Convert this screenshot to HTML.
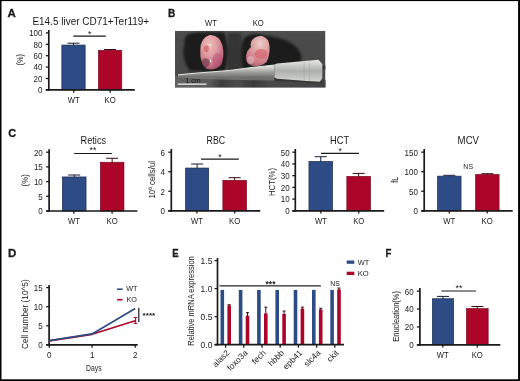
<!DOCTYPE html>
<html lang="en">
<head>
<meta charset="utf-8">
<title>Figure</title>
<style>
html,body{margin:0;padding:0;background:#fff;}
body{width:520px;height:381px;overflow:hidden;position:relative;}
svg{position:absolute;left:0;top:0;display:block;will-change:transform;font-family:'Liberation Sans', sans-serif;}
</style>
</head>
<body>
<svg width="520" height="381" viewBox="0 0 520 381">
<text transform="translate(7.6 17)" font-size="11.5" text-anchor="start" fill="#1a1a1a" font-weight="bold" textLength="8.3" lengthAdjust="spacingAndGlyphs" stroke="#1a1a1a" stroke-width="0.3">A</text>
<text transform="translate(167.9 17)" font-size="11.5" text-anchor="start" fill="#1a1a1a" font-weight="bold" textLength="7.3" lengthAdjust="spacingAndGlyphs" stroke="#1a1a1a" stroke-width="0.3">B</text>
<text transform="translate(8.3 136.7)" font-size="11.8" text-anchor="start" fill="#1a1a1a" font-weight="bold" textLength="7.9" lengthAdjust="spacingAndGlyphs" stroke="#1a1a1a" stroke-width="0.3">C</text>
<text transform="translate(7.9 256.8)" font-size="11.5" text-anchor="start" fill="#1a1a1a" font-weight="bold" textLength="8.3" lengthAdjust="spacingAndGlyphs" stroke="#1a1a1a" stroke-width="0.3">D</text>
<text transform="translate(172.2 257.4)" font-size="11.5" text-anchor="start" fill="#1a1a1a" font-weight="bold" textLength="6.4" lengthAdjust="spacingAndGlyphs" stroke="#1a1a1a" stroke-width="0.3">E</text>
<text transform="translate(385.5 257)" font-size="11.5" text-anchor="start" fill="#1a1a1a" font-weight="bold" textLength="5.9" lengthAdjust="spacingAndGlyphs" stroke="#1a1a1a" stroke-width="0.3">F</text>
<text transform="translate(32.4 24.7)" font-size="10" text-anchor="start" fill="#1a1a1a" textLength="116.8" lengthAdjust="spacingAndGlyphs" >E14.5 liver CD71+Ter119+</text>
<rect x="61.85" y="45.05" width="23.30" height="44.85" fill="#2d4c86" stroke="#1d2d52" stroke-width="0.7"/>
<line x1="73.5" y1="45.2" x2="73.5" y2="43.2" stroke="#141f38" stroke-width="1.0" stroke-linecap="butt"/>
<line x1="67.5" y1="43.2" x2="79.5" y2="43.2" stroke="#141f38" stroke-width="1.0" stroke-linecap="butt"/>
<rect x="98.45" y="50.35" width="23.30" height="39.55" fill="#ad0529" stroke="#7c0920" stroke-width="0.7"/>
<line x1="110.1" y1="50.5" x2="110.1" y2="49.5" stroke="#3a0812" stroke-width="1.0" stroke-linecap="butt"/>
<line x1="104.1" y1="49.5" x2="116.1" y2="49.5" stroke="#3a0812" stroke-width="1.0" stroke-linecap="butt"/>
<line x1="48.8" y1="30" x2="48.8" y2="90.75" stroke="#1a1a1a" stroke-width="1.7" stroke-linecap="butt"/>
<line x1="45.8" y1="89.9" x2="134.8" y2="89.9" stroke="#1a1a1a" stroke-width="1.7" stroke-linecap="butt"/>
<line x1="45.8" y1="89.9" x2="48.8" y2="89.9" stroke="#1a1a1a" stroke-width="1.3" stroke-linecap="butt"/>
<text transform="translate(42.5 93.284)" font-size="9.4" text-anchor="end" fill="#1a1a1a" textLength="4.45" lengthAdjust="spacingAndGlyphs" >0</text>
<line x1="45.8" y1="78.5" x2="48.8" y2="78.5" stroke="#1a1a1a" stroke-width="1.3" stroke-linecap="butt"/>
<text transform="translate(42.5 81.884)" font-size="9.4" text-anchor="end" fill="#1a1a1a" textLength="8.9" lengthAdjust="spacingAndGlyphs" >20</text>
<line x1="45.8" y1="67.10000000000001" x2="48.8" y2="67.10000000000001" stroke="#1a1a1a" stroke-width="1.3" stroke-linecap="butt"/>
<text transform="translate(42.5 70.48400000000001)" font-size="9.4" text-anchor="end" fill="#1a1a1a" textLength="8.9" lengthAdjust="spacingAndGlyphs" >40</text>
<line x1="45.8" y1="55.70000000000001" x2="48.8" y2="55.70000000000001" stroke="#1a1a1a" stroke-width="1.3" stroke-linecap="butt"/>
<text transform="translate(42.5 59.08400000000001)" font-size="9.4" text-anchor="end" fill="#1a1a1a" textLength="8.9" lengthAdjust="spacingAndGlyphs" >60</text>
<line x1="45.8" y1="44.30000000000001" x2="48.8" y2="44.30000000000001" stroke="#1a1a1a" stroke-width="1.3" stroke-linecap="butt"/>
<text transform="translate(42.5 47.68400000000001)" font-size="9.4" text-anchor="end" fill="#1a1a1a" textLength="8.9" lengthAdjust="spacingAndGlyphs" >80</text>
<line x1="45.8" y1="32.90000000000001" x2="48.8" y2="32.90000000000001" stroke="#1a1a1a" stroke-width="1.3" stroke-linecap="butt"/>
<text transform="translate(42.5 36.28400000000001)" font-size="9.4" text-anchor="end" fill="#1a1a1a" textLength="13.34" lengthAdjust="spacingAndGlyphs" >100</text>
<line x1="73.7" y1="89.9" x2="73.7" y2="92.7" stroke="#1a1a1a" stroke-width="1.3" stroke-linecap="butt"/>
<text transform="translate(73.7 102.9)" font-size="8.7" text-anchor="middle" fill="#1a1a1a" textLength="12.0" lengthAdjust="spacingAndGlyphs" >WT</text>
<line x1="110.2" y1="89.9" x2="110.2" y2="92.7" stroke="#1a1a1a" stroke-width="1.3" stroke-linecap="butt"/>
<text transform="translate(110.2 102.9)" font-size="8.7" text-anchor="middle" fill="#1a1a1a" textLength="11.2" lengthAdjust="spacingAndGlyphs" >KO</text>
<line x1="73.3" y1="36.2" x2="105.8" y2="36.2" stroke="#1a1a1a" stroke-width="1.2" stroke-linecap="butt"/>
<text transform="translate(89.7 36.7)" font-size="8.8" text-anchor="middle" fill="#1a1a1a" >*</text>
<text transform="translate(23.3 59.8) rotate(-90)" font-size="8.5" text-anchor="middle" fill="#1a1a1a" textLength="11.6" lengthAdjust="spacingAndGlyphs" >(%)</text>
<g id="photo">
<defs><clipPath id="pc"><rect x="175.0" y="30.8" width="150.5" height="56.7"/></clipPath><linearGradient id="tipg" x1="0" y1="0" x2="0" y2="1"><stop offset="0" stop-color="#e9e9e5"/><stop offset="0.22" stop-color="#cfd0cc"/><stop offset="0.5" stop-color="#adb0ad"/><stop offset="0.78" stop-color="#c2c3bf"/><stop offset="0.93" stop-color="#d2d2ce"/><stop offset="1" stop-color="#8c8d89"/></linearGradient><linearGradient id="tipn" x1="0" y1="0" x2="0" y2="1"><stop offset="0" stop-color="#eeeeea"/><stop offset="0.3" stop-color="#c2c3bf"/><stop offset="0.65" stop-color="#969793"/><stop offset="1" stop-color="#70716d"/></linearGradient><linearGradient id="bgg" x1="0" y1="0" x2="0" y2="1"><stop offset="0" stop-color="#545454"/><stop offset="0.06" stop-color="#4b4b4b"/><stop offset="1" stop-color="#484848"/></linearGradient><linearGradient id="lowg" x1="0" y1="0" x2="1" y2="0"><stop offset="0" stop-color="#636363"/><stop offset="0.25" stop-color="#5a5a5a"/><stop offset="0.32" stop-color="#3c3c3c"/><stop offset="0.42" stop-color="#4c4c4c"/><stop offset="0.52" stop-color="#383838"/><stop offset="0.62" stop-color="#484848"/><stop offset="1" stop-color="#424242"/></linearGradient><radialGradient id="emb1" cx="0.4" cy="0.28" r="0.8"><stop offset="0" stop-color="#efbfbd"/><stop offset="0.4" stop-color="#df9ca1"/><stop offset="0.8" stop-color="#c4697f"/><stop offset="1" stop-color="#874357"/></radialGradient><radialGradient id="emb2" cx="0.6" cy="0.25" r="0.8"><stop offset="0" stop-color="#eccfcb"/><stop offset="0.4" stop-color="#dfa2a5"/><stop offset="0.8" stop-color="#cf7c86"/><stop offset="1" stop-color="#9a5c6a"/></radialGradient><filter id="bl" x="-20%" y="-20%" width="140%" height="140%"><feGaussianBlur stdDeviation="1.3"/></filter><filter id="bl2" x="-20%" y="-20%" width="140%" height="140%"><feGaussianBlur stdDeviation="0.7"/></filter><filter id="bl3" x="-20%" y="-20%" width="140%" height="140%"><feGaussianBlur stdDeviation="0.45"/></filter></defs>
<g clip-path="url(#pc)">
<rect x="175.0" y="30.8" width="150.5" height="56.7" fill="url(#bgg)"/>
<g filter="url(#bl2)"><polygon points="170,76 250,76 330,80 330,92 170,92" fill="url(#lowg)"/></g>
<g filter="url(#bl)">
<path d="M185,38 Q187,33 198,32.5 L224,32.5 Q228,42 227.5,55 Q227,66 224,72 L190,71 Q183,62 183.5,50 Z" fill="#1c1c1c"/>
<path d="M242.5,42 Q244,34.5 256,34 L268,36 Q294,39.5 300.5,53 Q302.5,61 299.5,68.5 L243,70.5 Q239,56 242.5,42 Z" fill="#1d1d1d"/>
<rect x="228" y="33" width="13.5" height="38" fill="#343434"/>
<rect x="300" y="66" width="30" height="3" fill="#303030"/>
</g>
<g filter="url(#bl2)">
<path d="M200.3,50 Q200.3,38 209.5,35 Q219.5,34.5 222.6,46 Q225,58 220.5,65.5 Q214.5,71 206.5,68.8 Q199.5,63.5 200.3,50 Z" fill="url(#emb1)"/>
<ellipse cx="217.5" cy="60" rx="5" ry="7" fill="#b8507a" opacity="0.5"/>
<ellipse cx="205.6" cy="62.8" rx="4" ry="4.5" fill="#55303e" opacity="0.55"/>
<ellipse cx="206.4" cy="48.8" rx="2.6" ry="3.4" fill="#cf5252" opacity="0.6"/>
<path d="M252,40 Q256,35.5 262,36 Q269,38 269.5,46 Q270,56 266.5,62 Q260,67.5 252,66 Q245,63 246,56 Q247,50 251,47 Q250,43 252,40 Z" fill="url(#emb2)"/>
<ellipse cx="261" cy="54" rx="6.5" ry="5" fill="#d65a66" opacity="0.6"/>
<ellipse cx="250.5" cy="60" rx="3.5" ry="4" fill="#e6c2c2" opacity="0.55"/>
</g>
<g filter="url(#bl3)">
<path d="M209,44 l2.6,1.2 l-2,1.1 z" fill="#fff"/>
<path d="M210,59 l1.7,3.2 l-1.6,-0.3 z" fill="#fff"/>
<polygon points="178,75.5 250,76 274.5,77 274.5,80.6 250,80.2 200,79 178,77.5" fill="#7a7a78" opacity="0.8"/>
<polygon points="274.5,78 322,80 322,83 274.5,81" fill="#2e2e2e" opacity="0.8"/>
<polygon points="178,74.9 200,72.9 230,70.5 250,67.8 274.5,65.2 274.5,77.4 250,76.4 230,76.8 200,76.3 178,76.1" fill="url(#tipn)"/>
<polygon points="274.5,64.6 277,63.4 318.5,59.7 322.3,64 322.3,78 319.8,82 277,78.8 274.5,77.6" fill="url(#tipg)"/>
<polyline points="178,74.8 200,72.8 230,70.4 250,67.7 274.5,65" fill="none" stroke="#f4f4f0" stroke-width="0.9"/>
<rect x="303.5" y="61.5" width="1.2" height="19" fill="#9a9b97" opacity="0.35"/>
<rect x="309" y="61" width="1.2" height="20" fill="#9a9b97" opacity="0.3"/>
</g>
<line x1="177.8" y1="84.1" x2="206.4" y2="84.1" stroke="#f4f4f4" stroke-width="1.1" stroke-linecap="butt"/>
<text transform="translate(193 83)" font-size="7" text-anchor="middle" fill="#161616" >1 cm</text>
</g>
</g>
<text transform="translate(211 26.0)" font-size="8.8" text-anchor="middle" fill="#1a1a1a" textLength="11.9" lengthAdjust="spacingAndGlyphs" >WT</text>
<text transform="translate(258.2 26.0)" font-size="8.8" text-anchor="middle" fill="#1a1a1a" textLength="11.1" lengthAdjust="spacingAndGlyphs" >KO</text>
<text transform="translate(93.3 143.8)" font-size="10.2" text-anchor="middle" fill="#1a1a1a" textLength="25.6" lengthAdjust="spacingAndGlyphs" >Retics</text>
<rect x="62.35" y="176.95" width="23.70" height="34.05" fill="#2d4c86" stroke="#1d2d52" stroke-width="0.7"/>
<line x1="74.2" y1="177.1" x2="74.2" y2="175" stroke="#141f38" stroke-width="1.0" stroke-linecap="butt"/>
<line x1="68.2" y1="175" x2="80.2" y2="175" stroke="#141f38" stroke-width="1.0" stroke-linecap="butt"/>
<rect x="100.35" y="162.25" width="23.60" height="48.75" fill="#ad0529" stroke="#7c0920" stroke-width="0.7"/>
<line x1="112.15" y1="162.4" x2="112.15" y2="158.3" stroke="#3a0812" stroke-width="1.0" stroke-linecap="butt"/>
<line x1="106.15" y1="158.3" x2="118.15" y2="158.3" stroke="#3a0812" stroke-width="1.0" stroke-linecap="butt"/>
<line x1="49.1" y1="149.2" x2="49.1" y2="211.85" stroke="#1a1a1a" stroke-width="1.7" stroke-linecap="butt"/>
<line x1="46.1" y1="211" x2="137.4" y2="211" stroke="#1a1a1a" stroke-width="1.7" stroke-linecap="butt"/>
<line x1="46.1" y1="211.0" x2="49.1" y2="211.0" stroke="#1a1a1a" stroke-width="1.3" stroke-linecap="butt"/>
<text transform="translate(42.800000000000004 214.384)" font-size="9.4" text-anchor="end" fill="#1a1a1a" textLength="4.45" lengthAdjust="spacingAndGlyphs" >0</text>
<line x1="46.1" y1="196.3" x2="49.1" y2="196.3" stroke="#1a1a1a" stroke-width="1.3" stroke-linecap="butt"/>
<text transform="translate(42.800000000000004 199.684)" font-size="9.4" text-anchor="end" fill="#1a1a1a" textLength="4.45" lengthAdjust="spacingAndGlyphs" >5</text>
<line x1="46.1" y1="181.6" x2="49.1" y2="181.6" stroke="#1a1a1a" stroke-width="1.3" stroke-linecap="butt"/>
<text transform="translate(42.800000000000004 184.98399999999998)" font-size="9.4" text-anchor="end" fill="#1a1a1a" textLength="8.9" lengthAdjust="spacingAndGlyphs" >10</text>
<line x1="46.1" y1="166.9" x2="49.1" y2="166.9" stroke="#1a1a1a" stroke-width="1.3" stroke-linecap="butt"/>
<text transform="translate(42.800000000000004 170.284)" font-size="9.4" text-anchor="end" fill="#1a1a1a" textLength="8.9" lengthAdjust="spacingAndGlyphs" >15</text>
<line x1="46.1" y1="152.2" x2="49.1" y2="152.2" stroke="#1a1a1a" stroke-width="1.3" stroke-linecap="butt"/>
<text transform="translate(42.800000000000004 155.58399999999997)" font-size="9.4" text-anchor="end" fill="#1a1a1a" textLength="8.9" lengthAdjust="spacingAndGlyphs" >20</text>
<line x1="73.9" y1="211" x2="73.9" y2="213.8" stroke="#1a1a1a" stroke-width="1.3" stroke-linecap="butt"/>
<text transform="translate(73.9 223.7)" font-size="8.7" text-anchor="middle" fill="#1a1a1a" textLength="12.0" lengthAdjust="spacingAndGlyphs" >WT</text>
<line x1="112.1" y1="211" x2="112.1" y2="213.8" stroke="#1a1a1a" stroke-width="1.3" stroke-linecap="butt"/>
<text transform="translate(112.1 223.7)" font-size="8.7" text-anchor="middle" fill="#1a1a1a" textLength="11.2" lengthAdjust="spacingAndGlyphs" >KO</text>
<line x1="74.1" y1="153.5" x2="111.9" y2="153.5" stroke="#1a1a1a" stroke-width="1.2" stroke-linecap="butt"/>
<text transform="translate(93 153.2)" font-size="8.8" text-anchor="middle" fill="#1a1a1a" >**</text>
<text transform="translate(28.4 180.3) rotate(-90)" font-size="8.5" text-anchor="middle" fill="#1a1a1a" textLength="12.2" lengthAdjust="spacingAndGlyphs" >(%)</text>
<text transform="translate(215.9 143.9)" font-size="10.2" text-anchor="middle" fill="#1a1a1a" textLength="18.6" lengthAdjust="spacingAndGlyphs" >RBC</text>
<rect x="185.55" y="168.05" width="23.10" height="42.75" fill="#2d4c86" stroke="#1d2d52" stroke-width="0.7"/>
<line x1="197.1" y1="168.2" x2="197.1" y2="164" stroke="#141f38" stroke-width="1.0" stroke-linecap="butt"/>
<line x1="191.1" y1="164" x2="203.1" y2="164" stroke="#141f38" stroke-width="1.0" stroke-linecap="butt"/>
<rect x="222.85" y="180.35" width="23.60" height="30.45" fill="#ad0529" stroke="#7c0920" stroke-width="0.7"/>
<line x1="234.65" y1="180.5" x2="234.65" y2="177.7" stroke="#3a0812" stroke-width="1.0" stroke-linecap="butt"/>
<line x1="228.65" y1="177.7" x2="240.65" y2="177.7" stroke="#3a0812" stroke-width="1.0" stroke-linecap="butt"/>
<line x1="171.3" y1="149" x2="171.3" y2="211.65" stroke="#1a1a1a" stroke-width="1.7" stroke-linecap="butt"/>
<line x1="168.3" y1="210.8" x2="260.2" y2="210.8" stroke="#1a1a1a" stroke-width="1.7" stroke-linecap="butt"/>
<line x1="168.3" y1="210.8" x2="171.3" y2="210.8" stroke="#1a1a1a" stroke-width="1.3" stroke-linecap="butt"/>
<text transform="translate(165.0 214.184)" font-size="9.4" text-anchor="end" fill="#1a1a1a" textLength="4.45" lengthAdjust="spacingAndGlyphs" >0</text>
<line x1="168.3" y1="191.26000000000002" x2="171.3" y2="191.26000000000002" stroke="#1a1a1a" stroke-width="1.3" stroke-linecap="butt"/>
<text transform="translate(165.0 194.644)" font-size="9.4" text-anchor="end" fill="#1a1a1a" textLength="4.45" lengthAdjust="spacingAndGlyphs" >2</text>
<line x1="168.3" y1="171.72000000000003" x2="171.3" y2="171.72000000000003" stroke="#1a1a1a" stroke-width="1.3" stroke-linecap="butt"/>
<text transform="translate(165.0 175.104)" font-size="9.4" text-anchor="end" fill="#1a1a1a" textLength="4.45" lengthAdjust="spacingAndGlyphs" >4</text>
<line x1="168.3" y1="152.18" x2="171.3" y2="152.18" stroke="#1a1a1a" stroke-width="1.3" stroke-linecap="butt"/>
<text transform="translate(165.0 155.564)" font-size="9.4" text-anchor="end" fill="#1a1a1a" textLength="4.45" lengthAdjust="spacingAndGlyphs" >6</text>
<line x1="196.9" y1="210.8" x2="196.9" y2="213.60000000000002" stroke="#1a1a1a" stroke-width="1.3" stroke-linecap="butt"/>
<text transform="translate(196.9 223.7)" font-size="8.7" text-anchor="middle" fill="#1a1a1a" textLength="12.0" lengthAdjust="spacingAndGlyphs" >WT</text>
<line x1="234.7" y1="210.8" x2="234.7" y2="213.60000000000002" stroke="#1a1a1a" stroke-width="1.3" stroke-linecap="butt"/>
<text transform="translate(234.7 223.7)" font-size="8.7" text-anchor="middle" fill="#1a1a1a" textLength="11.2" lengthAdjust="spacingAndGlyphs" >KO</text>
<line x1="201" y1="159.1" x2="238.8" y2="159.1" stroke="#1a1a1a" stroke-width="1.2" stroke-linecap="butt"/>
<text transform="translate(219.9 159.7)" font-size="8.8" text-anchor="middle" fill="#1a1a1a" >*</text>
<text transform="translate(154.8 179.8) rotate(-90)" font-size="9" text-anchor="middle" fill="#1a1a1a" textLength="37.6" lengthAdjust="spacingAndGlyphs" >10<tspan font-size="5.5" dy="-3.2">6</tspan><tspan dy="3.2"> cells/ul</tspan></text>
<text transform="translate(339.6 143.9)" font-size="10.2" text-anchor="middle" fill="#1a1a1a" textLength="19.0" lengthAdjust="spacingAndGlyphs" >HCT</text>
<rect x="308.95" y="161.45" width="23.60" height="49.35" fill="#2d4c86" stroke="#1d2d52" stroke-width="0.7"/>
<line x1="320.75" y1="161.6" x2="320.75" y2="156.7" stroke="#141f38" stroke-width="1.0" stroke-linecap="butt"/>
<line x1="314.75" y1="156.7" x2="326.75" y2="156.7" stroke="#141f38" stroke-width="1.0" stroke-linecap="butt"/>
<rect x="346.85" y="176.45" width="23.60" height="34.35" fill="#ad0529" stroke="#7c0920" stroke-width="0.7"/>
<line x1="358.65" y1="176.6" x2="358.65" y2="173.4" stroke="#3a0812" stroke-width="1.0" stroke-linecap="butt"/>
<line x1="352.65" y1="173.4" x2="364.65" y2="173.4" stroke="#3a0812" stroke-width="1.0" stroke-linecap="butt"/>
<line x1="295.3" y1="149" x2="295.3" y2="211.65" stroke="#1a1a1a" stroke-width="1.7" stroke-linecap="butt"/>
<line x1="292.3" y1="210.8" x2="384.2" y2="210.8" stroke="#1a1a1a" stroke-width="1.7" stroke-linecap="butt"/>
<line x1="292.3" y1="210.8" x2="295.3" y2="210.8" stroke="#1a1a1a" stroke-width="1.3" stroke-linecap="butt"/>
<text transform="translate(289.7 214.184)" font-size="9.4" text-anchor="end" fill="#1a1a1a" textLength="4.45" lengthAdjust="spacingAndGlyphs" >0</text>
<line x1="292.3" y1="199.08" x2="295.3" y2="199.08" stroke="#1a1a1a" stroke-width="1.3" stroke-linecap="butt"/>
<text transform="translate(289.7 202.464)" font-size="9.4" text-anchor="end" fill="#1a1a1a" textLength="8.9" lengthAdjust="spacingAndGlyphs" >10</text>
<line x1="292.3" y1="187.36" x2="295.3" y2="187.36" stroke="#1a1a1a" stroke-width="1.3" stroke-linecap="butt"/>
<text transform="translate(289.7 190.744)" font-size="9.4" text-anchor="end" fill="#1a1a1a" textLength="8.9" lengthAdjust="spacingAndGlyphs" >20</text>
<line x1="292.3" y1="175.64000000000001" x2="295.3" y2="175.64000000000001" stroke="#1a1a1a" stroke-width="1.3" stroke-linecap="butt"/>
<text transform="translate(289.7 179.024)" font-size="9.4" text-anchor="end" fill="#1a1a1a" textLength="8.9" lengthAdjust="spacingAndGlyphs" >30</text>
<line x1="292.3" y1="163.92000000000002" x2="295.3" y2="163.92000000000002" stroke="#1a1a1a" stroke-width="1.3" stroke-linecap="butt"/>
<text transform="translate(289.7 167.304)" font-size="9.4" text-anchor="end" fill="#1a1a1a" textLength="8.9" lengthAdjust="spacingAndGlyphs" >40</text>
<line x1="292.3" y1="152.20000000000002" x2="295.3" y2="152.20000000000002" stroke="#1a1a1a" stroke-width="1.3" stroke-linecap="butt"/>
<text transform="translate(289.7 155.584)" font-size="9.4" text-anchor="end" fill="#1a1a1a" textLength="8.9" lengthAdjust="spacingAndGlyphs" >50</text>
<line x1="320.9" y1="210.8" x2="320.9" y2="213.60000000000002" stroke="#1a1a1a" stroke-width="1.3" stroke-linecap="butt"/>
<text transform="translate(320.9 223.7)" font-size="8.7" text-anchor="middle" fill="#1a1a1a" textLength="12.0" lengthAdjust="spacingAndGlyphs" >WT</text>
<line x1="358.8" y1="210.8" x2="358.8" y2="213.60000000000002" stroke="#1a1a1a" stroke-width="1.3" stroke-linecap="butt"/>
<text transform="translate(358.8 223.7)" font-size="8.7" text-anchor="middle" fill="#1a1a1a" textLength="11.2" lengthAdjust="spacingAndGlyphs" >KO</text>
<line x1="321" y1="153.3" x2="359" y2="153.3" stroke="#1a1a1a" stroke-width="1.2" stroke-linecap="butt"/>
<text transform="translate(340.1 153.7)" font-size="8.8" text-anchor="middle" fill="#1a1a1a" >*</text>
<text transform="translate(275.3 182) rotate(-90)" font-size="9" text-anchor="middle" fill="#1a1a1a" textLength="28" lengthAdjust="spacingAndGlyphs" >HCT(%)</text>
<text transform="translate(468.3 143.9)" font-size="10.2" text-anchor="middle" fill="#1a1a1a" textLength="21.4" lengthAdjust="spacingAndGlyphs" >MCV</text>
<rect x="437.55" y="176.15" width="23.50" height="34.65" fill="#2d4c86" stroke="#1d2d52" stroke-width="0.7"/>
<line x1="449.29999999999995" y1="176.3" x2="449.29999999999995" y2="175.3" stroke="#141f38" stroke-width="1.0" stroke-linecap="butt"/>
<line x1="443.29999999999995" y1="175.3" x2="455.29999999999995" y2="175.3" stroke="#141f38" stroke-width="1.0" stroke-linecap="butt"/>
<rect x="475.65" y="174.55" width="23.40" height="36.25" fill="#ad0529" stroke="#7c0920" stroke-width="0.7"/>
<line x1="487.35" y1="174.7" x2="487.35" y2="173.7" stroke="#3a0812" stroke-width="1.0" stroke-linecap="butt"/>
<line x1="481.35" y1="173.7" x2="493.35" y2="173.7" stroke="#3a0812" stroke-width="1.0" stroke-linecap="butt"/>
<line x1="424.2" y1="149" x2="424.2" y2="211.65" stroke="#1a1a1a" stroke-width="1.7" stroke-linecap="butt"/>
<line x1="421.2" y1="210.8" x2="512.7" y2="210.8" stroke="#1a1a1a" stroke-width="1.7" stroke-linecap="butt"/>
<line x1="421.2" y1="210.8" x2="424.2" y2="210.8" stroke="#1a1a1a" stroke-width="1.3" stroke-linecap="butt"/>
<text transform="translate(417.9 214.184)" font-size="9.4" text-anchor="end" fill="#1a1a1a" textLength="4.45" lengthAdjust="spacingAndGlyphs" >0</text>
<line x1="421.2" y1="191.25" x2="424.2" y2="191.25" stroke="#1a1a1a" stroke-width="1.3" stroke-linecap="butt"/>
<text transform="translate(417.9 194.634)" font-size="9.4" text-anchor="end" fill="#1a1a1a" textLength="8.9" lengthAdjust="spacingAndGlyphs" >50</text>
<line x1="421.2" y1="171.70000000000002" x2="424.2" y2="171.70000000000002" stroke="#1a1a1a" stroke-width="1.3" stroke-linecap="butt"/>
<text transform="translate(417.9 175.084)" font-size="9.4" text-anchor="end" fill="#1a1a1a" textLength="13.34" lengthAdjust="spacingAndGlyphs" >100</text>
<line x1="421.2" y1="152.15" x2="424.2" y2="152.15" stroke="#1a1a1a" stroke-width="1.3" stroke-linecap="butt"/>
<text transform="translate(417.9 155.534)" font-size="9.4" text-anchor="end" fill="#1a1a1a" textLength="13.34" lengthAdjust="spacingAndGlyphs" >150</text>
<line x1="449.3" y1="210.8" x2="449.3" y2="213.60000000000002" stroke="#1a1a1a" stroke-width="1.3" stroke-linecap="butt"/>
<text transform="translate(449.3 223.7)" font-size="8.7" text-anchor="middle" fill="#1a1a1a" textLength="12.0" lengthAdjust="spacingAndGlyphs" >WT</text>
<line x1="487.2" y1="210.8" x2="487.2" y2="213.60000000000002" stroke="#1a1a1a" stroke-width="1.3" stroke-linecap="butt"/>
<text transform="translate(487.2 223.7)" font-size="8.7" text-anchor="middle" fill="#1a1a1a" textLength="11.2" lengthAdjust="spacingAndGlyphs" >KO</text>
<text transform="translate(468.2 168.5)" font-size="7" text-anchor="middle" fill="#1a1a1a" >NS</text>
<text transform="translate(397.6 179.8) rotate(-90)" font-size="9" text-anchor="middle" fill="#1a1a1a" textLength="5.8" lengthAdjust="spacingAndGlyphs" >fL</text>
<line x1="49.1" y1="285" x2="49.1" y2="345.7" stroke="#1a1a1a" stroke-width="1.7" stroke-linecap="butt"/>
<line x1="46.2" y1="344.9" x2="137.7" y2="344.9" stroke="#1a1a1a" stroke-width="1.7" stroke-linecap="butt"/>
<line x1="46.2" y1="344.9" x2="49.1" y2="344.9" stroke="#1a1a1a" stroke-width="1.3" stroke-linecap="butt"/>
<text transform="translate(42.6 348.29999999999995)" font-size="9.4" text-anchor="end" fill="#1a1a1a" textLength="4.45" lengthAdjust="spacingAndGlyphs" >0</text>
<line x1="46.2" y1="325.79999999999995" x2="49.1" y2="325.79999999999995" stroke="#1a1a1a" stroke-width="1.3" stroke-linecap="butt"/>
<text transform="translate(42.6 329.19999999999993)" font-size="9.4" text-anchor="end" fill="#1a1a1a" textLength="4.45" lengthAdjust="spacingAndGlyphs" >5</text>
<line x1="46.2" y1="306.7" x2="49.1" y2="306.7" stroke="#1a1a1a" stroke-width="1.3" stroke-linecap="butt"/>
<text transform="translate(42.6 310.09999999999997)" font-size="9.4" text-anchor="end" fill="#1a1a1a" textLength="8.9" lengthAdjust="spacingAndGlyphs" >10</text>
<line x1="46.2" y1="287.59999999999997" x2="49.1" y2="287.59999999999997" stroke="#1a1a1a" stroke-width="1.3" stroke-linecap="butt"/>
<text transform="translate(42.6 290.99999999999994)" font-size="9.4" text-anchor="end" fill="#1a1a1a" textLength="8.9" lengthAdjust="spacingAndGlyphs" >15</text>
<line x1="49.3" y1="344.9" x2="49.3" y2="347.8" stroke="#1a1a1a" stroke-width="1.3" stroke-linecap="butt"/>
<text transform="translate(49.3 358.2)" font-size="9.4" text-anchor="middle" fill="#1a1a1a" textLength="4.45" lengthAdjust="spacingAndGlyphs" >0</text>
<line x1="92.1" y1="344.9" x2="92.1" y2="347.8" stroke="#1a1a1a" stroke-width="1.3" stroke-linecap="butt"/>
<text transform="translate(92.1 358.2)" font-size="9.4" text-anchor="middle" fill="#1a1a1a" textLength="4.45" lengthAdjust="spacingAndGlyphs" >1</text>
<line x1="135.2" y1="344.9" x2="135.2" y2="347.8" stroke="#1a1a1a" stroke-width="1.3" stroke-linecap="butt"/>
<text transform="translate(135.2 358.2)" font-size="9.4" text-anchor="middle" fill="#1a1a1a" textLength="4.45" lengthAdjust="spacingAndGlyphs" >2</text>
<text transform="translate(93.8 370.7)" font-size="8.2" text-anchor="middle" fill="#1a1a1a" textLength="15.5" lengthAdjust="spacingAndGlyphs" >Days</text>
<text transform="translate(27.9 314.2) rotate(-90)" font-size="8.8" text-anchor="middle" fill="#1a1a1a" textLength="69.7" lengthAdjust="spacingAndGlyphs" >Cell number (10^5)</text>
<polyline points="49.3,340.8 92.1,334.3 135.2,320.7" fill="none" stroke="#ad0529" stroke-width="1.7" stroke-linejoin="round"/>
<polyline points="49.3,340.6 92.1,333.9 135.2,308.6" fill="none" stroke="#2d4c86" stroke-width="1.7" stroke-linejoin="round"/>
<line x1="135.6" y1="317.3" x2="135.6" y2="323.6" stroke="#ad0529" stroke-width="1.1" stroke-linecap="butt"/>
<line x1="133.6" y1="317.5" x2="137" y2="317.5" stroke="#ad0529" stroke-width="1.0" stroke-linecap="butt"/>
<line x1="133.6" y1="323.4" x2="137" y2="323.4" stroke="#ad0529" stroke-width="1.0" stroke-linecap="butt"/>
<line x1="117.1" y1="289.2" x2="122.6" y2="289.2" stroke="#2d4c86" stroke-width="1.6" stroke-linecap="butt"/>
<text transform="translate(126.2 291.3)" font-size="7.6" text-anchor="start" fill="#1a1a1a" textLength="11.3" lengthAdjust="spacingAndGlyphs" >WT</text>
<line x1="117.1" y1="299.7" x2="122.6" y2="299.7" stroke="#ad0529" stroke-width="1.6" stroke-linecap="butt"/>
<text transform="translate(126.5 302.3)" font-size="7.6" text-anchor="start" fill="#1a1a1a" textLength="10.4" lengthAdjust="spacingAndGlyphs" >KO</text>
<line x1="138.8" y1="307.8" x2="138.8" y2="322" stroke="#1a1a1a" stroke-width="1.2" stroke-linecap="butt"/>
<text transform="translate(142.6 318.0)" font-size="8.1" text-anchor="start" fill="#1a1a1a" font-weight="bold" textLength="12.6" lengthAdjust="spacingAndGlyphs" >****</text>
<rect x="220.5" y="289.89029999999997" width="3.6" height="54.80970000000002" fill="#2d4c86"/>
<rect x="227.4" y="305.43" width="3.6" height="39.26999999999998" fill="#ad0529"/>
<line x1="229.20000000000002" y1="305.73" x2="229.20000000000002" y2="304.7007" stroke="#3a0812" stroke-width="1.0" stroke-linecap="butt"/>
<line x1="227.70000000000002" y1="304.7007" x2="230.70000000000002" y2="304.7007" stroke="#3a0812" stroke-width="1.0" stroke-linecap="butt"/>
<rect x="238.8" y="289.89029999999997" width="3.6" height="54.80970000000002" fill="#2d4c86"/>
<rect x="245.70000000000002" y="315.6963" width="3.6" height="29.00369999999998" fill="#ad0529"/>
<line x1="247.50000000000003" y1="315.9963" x2="247.50000000000003" y2="312.6108" stroke="#3a0812" stroke-width="1.0" stroke-linecap="butt"/>
<line x1="246.00000000000003" y1="312.6108" x2="249.00000000000003" y2="312.6108" stroke="#3a0812" stroke-width="1.0" stroke-linecap="butt"/>
<rect x="257.1" y="289.89029999999997" width="3.6" height="54.80970000000002" fill="#2d4c86"/>
<rect x="264.0" y="313.39619999999996" width="3.6" height="31.303800000000024" fill="#ad0529"/>
<line x1="265.8" y1="313.6962" x2="265.8" y2="307.113" stroke="#3a0812" stroke-width="1.0" stroke-linecap="butt"/>
<line x1="264.3" y1="307.113" x2="267.3" y2="307.113" stroke="#3a0812" stroke-width="1.0" stroke-linecap="butt"/>
<rect x="275.4" y="289.89029999999997" width="3.6" height="54.80970000000002" fill="#2d4c86"/>
<rect x="282.29999999999995" y="313.9011" width="3.6" height="30.798900000000003" fill="#ad0529"/>
<line x1="284.09999999999997" y1="314.2011" x2="284.09999999999997" y2="311.03999999999996" stroke="#3a0812" stroke-width="1.0" stroke-linecap="butt"/>
<line x1="282.59999999999997" y1="311.03999999999996" x2="285.59999999999997" y2="311.03999999999996" stroke="#3a0812" stroke-width="1.0" stroke-linecap="butt"/>
<rect x="293.7" y="289.89029999999997" width="3.6" height="54.80970000000002" fill="#2d4c86"/>
<rect x="300.59999999999997" y="308.68379999999996" width="3.6" height="36.016200000000026" fill="#ad0529"/>
<line x1="302.4" y1="308.9838" x2="302.4" y2="307.113" stroke="#3a0812" stroke-width="1.0" stroke-linecap="butt"/>
<line x1="300.9" y1="307.113" x2="303.9" y2="307.113" stroke="#3a0812" stroke-width="1.0" stroke-linecap="butt"/>
<rect x="312.0" y="289.89029999999997" width="3.6" height="54.80970000000002" fill="#2d4c86"/>
<rect x="318.9" y="309.4131" width="3.6" height="35.2869" fill="#ad0529"/>
<line x1="320.7" y1="309.7131" x2="320.7" y2="308.235" stroke="#3a0812" stroke-width="1.0" stroke-linecap="butt"/>
<line x1="319.2" y1="308.235" x2="322.2" y2="308.235" stroke="#3a0812" stroke-width="1.0" stroke-linecap="butt"/>
<rect x="330.3" y="289.89029999999997" width="3.6" height="54.80970000000002" fill="#2d4c86"/>
<rect x="337.2" y="289.4415" width="3.6" height="55.25849999999997" fill="#ad0529"/>
<line x1="339.0" y1="289.74150000000003" x2="339.0" y2="288.039" stroke="#3a0812" stroke-width="1.0" stroke-linecap="butt"/>
<line x1="337.5" y1="288.039" x2="340.5" y2="288.039" stroke="#3a0812" stroke-width="1.0" stroke-linecap="butt"/>
<line x1="217.5" y1="257.9" x2="217.5" y2="345.55" stroke="#1a1a1a" stroke-width="1.7" stroke-linecap="butt"/>
<line x1="214.6" y1="344.7" x2="344" y2="344.7" stroke="#1a1a1a" stroke-width="1.7" stroke-linecap="butt"/>
<line x1="214.6" y1="344.7" x2="217.5" y2="344.7" stroke="#1a1a1a" stroke-width="1.3" stroke-linecap="butt"/>
<text transform="translate(212.4 347.8)" font-size="8.8" text-anchor="end" fill="#1a1a1a" textLength="11.8" lengthAdjust="spacingAndGlyphs" >0.0</text>
<line x1="214.6" y1="316.65" x2="217.5" y2="316.65" stroke="#1a1a1a" stroke-width="1.3" stroke-linecap="butt"/>
<text transform="translate(212.4 319.75)" font-size="8.8" text-anchor="end" fill="#1a1a1a" textLength="11.8" lengthAdjust="spacingAndGlyphs" >0.5</text>
<line x1="214.6" y1="288.59999999999997" x2="217.5" y2="288.59999999999997" stroke="#1a1a1a" stroke-width="1.3" stroke-linecap="butt"/>
<text transform="translate(212.4 291.7)" font-size="8.8" text-anchor="end" fill="#1a1a1a" textLength="11.8" lengthAdjust="spacingAndGlyphs" >1.0</text>
<line x1="214.6" y1="260.54999999999995" x2="217.5" y2="260.54999999999995" stroke="#1a1a1a" stroke-width="1.3" stroke-linecap="butt"/>
<text transform="translate(212.4 263.65)" font-size="8.8" text-anchor="end" fill="#1a1a1a" textLength="11.8" lengthAdjust="spacingAndGlyphs" >1.5</text>
<text transform="translate(193.8 301.0) rotate(-90)" font-size="9.4" text-anchor="middle" fill="#1a1a1a" textLength="89.6" lengthAdjust="spacingAndGlyphs" >Relative mRNA expression</text>
<line x1="225.6" y1="344.7" x2="225.6" y2="347.7" stroke="#1a1a1a" stroke-width="1.3" stroke-linecap="butt"/>
<text transform="translate(230.0 353.5) rotate(-45)" font-size="8.4" text-anchor="end" fill="#1a1a1a" >alas2</text>
<line x1="243.79999999999998" y1="344.7" x2="243.79999999999998" y2="347.7" stroke="#1a1a1a" stroke-width="1.3" stroke-linecap="butt"/>
<text transform="translate(248.2 353.5) rotate(-45)" font-size="8.4" text-anchor="end" fill="#1a1a1a" >foxo3a</text>
<line x1="262.0" y1="344.7" x2="262.0" y2="347.7" stroke="#1a1a1a" stroke-width="1.3" stroke-linecap="butt"/>
<text transform="translate(266.4 353.5) rotate(-45)" font-size="8.4" text-anchor="end" fill="#1a1a1a" >fech</text>
<line x1="280.2" y1="344.7" x2="280.2" y2="347.7" stroke="#1a1a1a" stroke-width="1.3" stroke-linecap="butt"/>
<text transform="translate(284.59999999999997 353.5) rotate(-45)" font-size="8.4" text-anchor="end" fill="#1a1a1a" >hbbb</text>
<line x1="298.4" y1="344.7" x2="298.4" y2="347.7" stroke="#1a1a1a" stroke-width="1.3" stroke-linecap="butt"/>
<text transform="translate(302.79999999999995 353.5) rotate(-45)" font-size="8.4" text-anchor="end" fill="#1a1a1a" >epb41</text>
<line x1="316.6" y1="344.7" x2="316.6" y2="347.7" stroke="#1a1a1a" stroke-width="1.3" stroke-linecap="butt"/>
<text transform="translate(321.0 353.5) rotate(-45)" font-size="8.4" text-anchor="end" fill="#1a1a1a" >slc4a</text>
<line x1="334.79999999999995" y1="344.7" x2="334.79999999999995" y2="347.7" stroke="#1a1a1a" stroke-width="1.3" stroke-linecap="butt"/>
<text transform="translate(339.19999999999993 353.5) rotate(-45)" font-size="8.4" text-anchor="end" fill="#1a1a1a" >ckit</text>
<line x1="219.5" y1="285.8" x2="320.9" y2="285.8" stroke="#262626" stroke-width="1.3" stroke-linecap="butt"/>
<text transform="translate(270.5 286.9)" font-size="8.4" text-anchor="middle" fill="#1a1a1a" font-weight="bold" >***</text>
<text transform="translate(335 285.7)" font-size="7" text-anchor="middle" fill="#1a1a1a" textLength="9.6" lengthAdjust="spacingAndGlyphs" >NS</text>
<rect x="346.7" y="260.5" width="7.6" height="3.3" fill="#2d4c86"/>
<text transform="translate(357.7 264.5)" font-size="7.6" text-anchor="start" fill="#1a1a1a" textLength="11.5" lengthAdjust="spacingAndGlyphs" >WT</text>
<rect x="346.7" y="271.7" width="7.6" height="3.3" fill="#ad0529"/>
<text transform="translate(357.7 276)" font-size="7.6" text-anchor="start" fill="#1a1a1a" textLength="11" lengthAdjust="spacingAndGlyphs" >KO</text>
<rect x="432.35" y="298.75" width="21.30" height="46.05" fill="#2d4c86" stroke="#1d2d52" stroke-width="0.7"/>
<line x1="443.0" y1="298.9" x2="443.0" y2="296.4" stroke="#141f38" stroke-width="1.0" stroke-linecap="butt"/>
<line x1="437.0" y1="296.4" x2="449.0" y2="296.4" stroke="#141f38" stroke-width="1.0" stroke-linecap="butt"/>
<rect x="466.45" y="308.65" width="21.70" height="36.15" fill="#ad0529" stroke="#7c0920" stroke-width="0.7"/>
<line x1="477.3" y1="308.8" x2="477.3" y2="306.5" stroke="#3a0812" stroke-width="1.0" stroke-linecap="butt"/>
<line x1="471.3" y1="306.5" x2="483.3" y2="306.5" stroke="#3a0812" stroke-width="1.0" stroke-linecap="butt"/>
<line x1="419.9" y1="288" x2="419.9" y2="345.65000000000003" stroke="#1a1a1a" stroke-width="1.7" stroke-linecap="butt"/>
<line x1="416.9" y1="344.8" x2="500.3" y2="344.8" stroke="#1a1a1a" stroke-width="1.7" stroke-linecap="butt"/>
<line x1="416.9" y1="344.8" x2="419.9" y2="344.8" stroke="#1a1a1a" stroke-width="1.3" stroke-linecap="butt"/>
<text transform="translate(413.59999999999997 348.184)" font-size="9.4" text-anchor="end" fill="#1a1a1a" textLength="4.45" lengthAdjust="spacingAndGlyphs" >0</text>
<line x1="416.9" y1="326.91" x2="419.9" y2="326.91" stroke="#1a1a1a" stroke-width="1.3" stroke-linecap="butt"/>
<text transform="translate(413.59999999999997 330.29400000000004)" font-size="9.4" text-anchor="end" fill="#1a1a1a" textLength="8.9" lengthAdjust="spacingAndGlyphs" >20</text>
<line x1="416.9" y1="309.02" x2="419.9" y2="309.02" stroke="#1a1a1a" stroke-width="1.3" stroke-linecap="butt"/>
<text transform="translate(413.59999999999997 312.404)" font-size="9.4" text-anchor="end" fill="#1a1a1a" textLength="8.9" lengthAdjust="spacingAndGlyphs" >40</text>
<line x1="416.9" y1="291.13" x2="419.9" y2="291.13" stroke="#1a1a1a" stroke-width="1.3" stroke-linecap="butt"/>
<text transform="translate(413.59999999999997 294.514)" font-size="9.4" text-anchor="end" fill="#1a1a1a" textLength="8.9" lengthAdjust="spacingAndGlyphs" >60</text>
<line x1="442.8" y1="344.8" x2="442.8" y2="347.6" stroke="#1a1a1a" stroke-width="1.3" stroke-linecap="butt"/>
<text transform="translate(442.8 358.2)" font-size="8.7" text-anchor="middle" fill="#1a1a1a" textLength="12.0" lengthAdjust="spacingAndGlyphs" >WT</text>
<line x1="477.3" y1="344.8" x2="477.3" y2="347.6" stroke="#1a1a1a" stroke-width="1.3" stroke-linecap="butt"/>
<text transform="translate(477.3 358.2)" font-size="8.7" text-anchor="middle" fill="#1a1a1a" textLength="11.2" lengthAdjust="spacingAndGlyphs" >KO</text>
<line x1="441.4" y1="291" x2="475.9" y2="291" stroke="#1a1a1a" stroke-width="1.2" stroke-linecap="butt"/>
<text transform="translate(458.9 290.9)" font-size="8.8" text-anchor="middle" fill="#1a1a1a" >**</text>
<text transform="translate(398.9 316.4) rotate(-90)" font-size="9" text-anchor="middle" fill="#1a1a1a" textLength="50.7" lengthAdjust="spacingAndGlyphs" >Enucleation(%)</text>
<rect x="0" y="0" width="520" height="1.1" fill="#000"/>
<rect x="0" y="0" width="1.5" height="381" fill="#000"/>
<rect x="518.1" y="0" width="1.9" height="381" fill="#000"/>
<rect x="0" y="379.3" width="520" height="1.7" fill="#000"/>
</svg>
</body>
</html>
